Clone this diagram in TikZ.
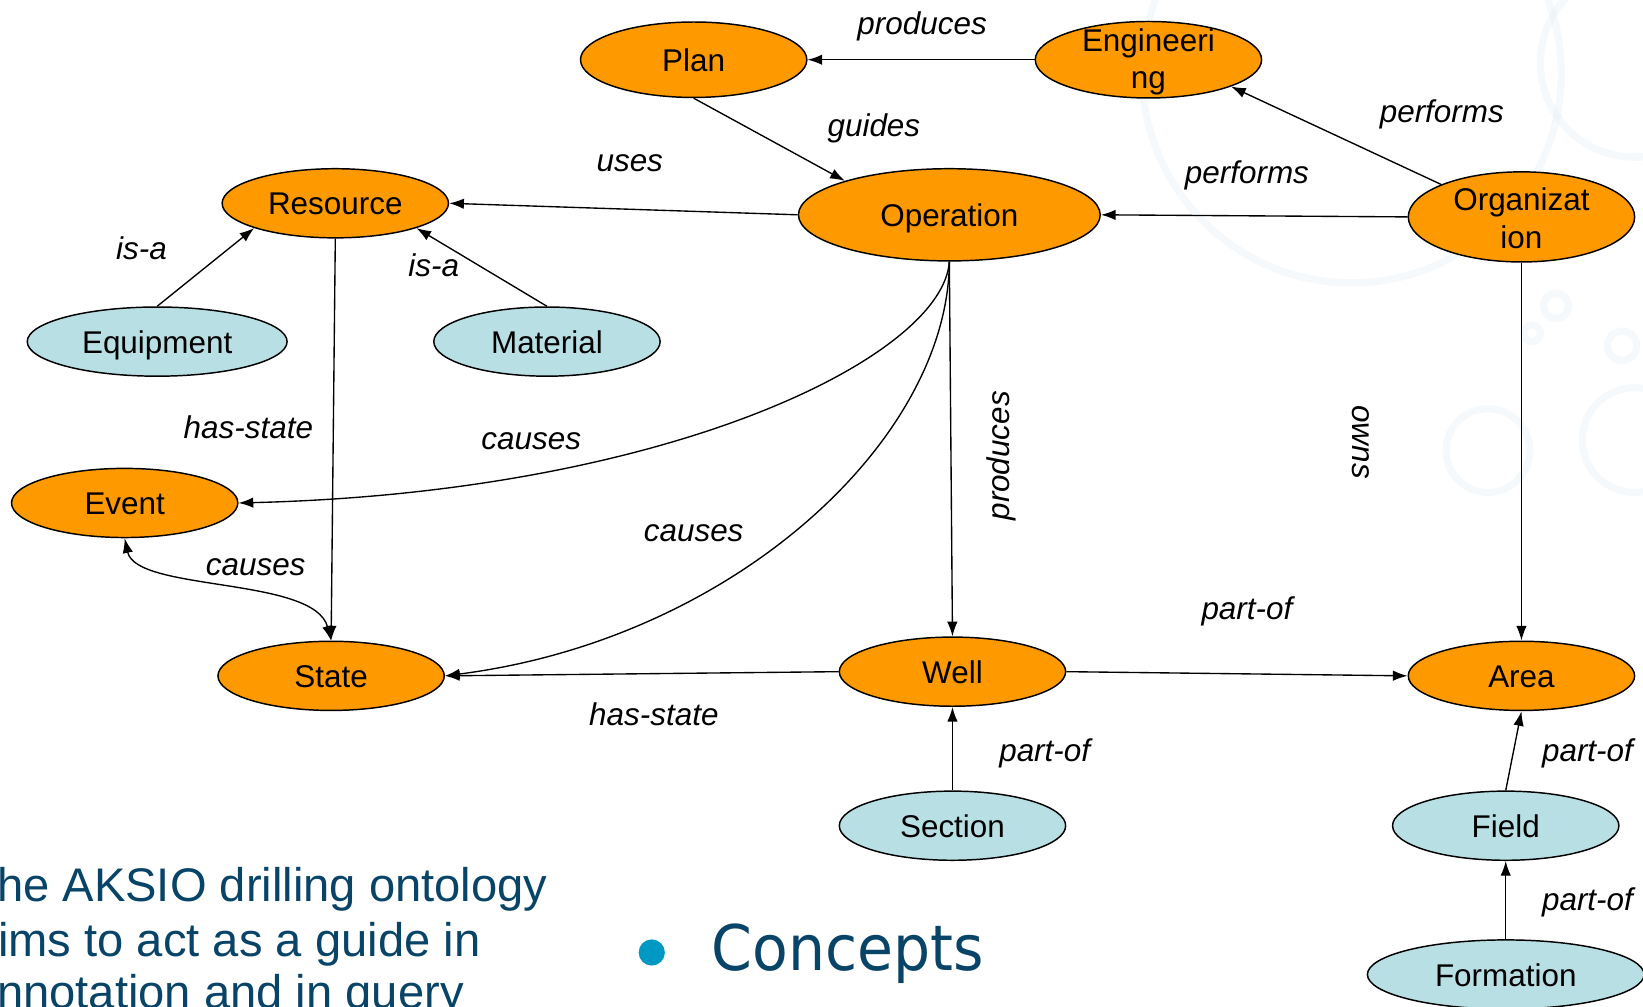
\documentclass[tikz,border=0pt]{standalone}
\usepackage{fontspec}
\setmainfont{Liberation Sans}
\newfontfamily\conceptfont[FakeStretch=0.93]{DejaVu Sans}
\usetikzlibrary{shapes.geometric,arrows.meta}
\definecolor{nodeorange}{RGB}{255,153,0}
\definecolor{nodeblue}{RGB}{184,223,227}
\definecolor{slidetext}{RGB}{8,68,104}
\definecolor{bulletblue}{RGB}{0,153,196}
\definecolor{wmark}{RGB}{222,234,241}
\begin{document}
\begin{tikzpicture}[x=1pt,y=-1pt,
  >={Latex[length=14pt,width=10pt]},
  concept/.style={ellipse, draw=black, line width=1.4pt, inner sep=0pt,
    font=\fontsize{30}{36}\selectfont, align=center, text height=22pt, text depth=0pt},
  core/.style={concept, fill=nodeorange},
  sub/.style={concept, fill=nodeblue},
  rel/.style={font=\fontsize{30}{36}\selectfont\itshape, inner sep=0pt, text height=22pt, text depth=0pt},
  link/.style={line width=1.3pt, ->},
  body/.style={text=slidetext, font=\fontsize{45}{53}\selectfont, anchor=base west, inner sep=0pt},
]
\useasboundingbox (0,0) rectangle (1568,961);
\clip (0,0) rectangle (1568,961);

% faint watermark
\begin{scope}[draw=wmark, line width=7pt, opacity=0.3]
  \draw (1290,70) circle [radius=200pt];
  \draw (1560,60) circle [radius=90pt];
  \draw (1485,292) circle [radius=12pt];
  \draw (1462,318) circle [radius=8pt];
  \draw (1548,330) circle [radius=14pt];
  \draw (1420,430) circle [radius=40pt];
  \draw (1560,420) circle [radius=50pt];
\end{scope}

% concept nodes
\node[core, minimum width=216pt, minimum height=72pt] (plan) at (662,57) {Plan};
\node[core, minimum width=216pt, minimum height=73pt,
  label={[font=\fontsize{30}{36}\selectfont, align=center, yshift=-2pt]center:Engineeri\\ng}] (eng) at (1096,57) {};
\node[core, minimum width=216pt, minimum height=66pt] (res) at (320,194) {Resource};
\node[core, minimum width=288pt, minimum height=88pt] (op) at (906,205) {Operation};
\node[core, minimum width=216pt, minimum height=86pt,
  label={[font=\fontsize{30}{36}\selectfont, align=center, yshift=-1pt]center:Organizat\\ion}] (org) at (1452,207) {};
\node[sub, minimum width=248pt, minimum height=66pt] (equip) at (150,326) {Equipment};
\node[sub, minimum width=216pt, minimum height=66pt] (mat) at (522,326) {Material};
\node[core, minimum width=216pt, minimum height=66pt] (event) at (119,480) {Event};
\node[core, minimum width=216pt, minimum height=66pt] (state) at (316,645) {State};
\node[core, minimum width=216pt, minimum height=66pt] (well) at (909,641) {Well};
\node[core, minimum width=216pt, minimum height=66pt] (area) at (1452,645) {Area};
\node[sub, minimum width=216pt, minimum height=66pt] (sec) at (909,788) {Section};
\node[sub, minimum width=216pt, minimum height=66pt] (field) at (1437,788) {Field};
\node[sub, minimum width=264pt, minimum height=66pt] (form) at (1437,930) {Formation};

% connectors
\draw[link] (eng.west) -- (plan.east);
\draw[link] (plan.south) -- (op.162);
\draw[link] (op.west) -- (res.east);
\draw[link] (org.west) -- (op.east);
\draw[link] (org.158) -- (eng.342);
\draw[link] (equip.north) -- (res.197);
\draw[link] (mat.north) -- (res.343);
\draw[link] (res.south) -- (state.north);
\draw[link] (op.south) .. controls (900,340) and (640,470) .. (event.east);
\draw[link] (op.south) .. controls (905,420) and (700,610) .. (state.east);
\draw[link] (op.south) -- (well.north);
\draw[line width=1.3pt, <->] (event.south) .. controls (130,565) and (300,550) .. (state.north);
\draw[link] (well.west) -- (state.east);
\draw[link] (well.east) -- (area.west);
\draw[link] (org.south) -- (area.north);
\draw[link] (sec.north) -- (well.south);
\draw[link] (field.north) -- (area.south);
\draw[link] (form.north) -- (field.south);

% relation labels
\node[rel] (l1) at (880,22) {produces};
\node[rel] (l2) at (834,119) {guides};
\node[rel] (l3) at (601,153) {uses};
\node[rel] (l4) at (1190,164) {performs};
\node[rel] (l5) at (1376,106) {performs};
\node[rel] (l6) at (135,237) {is-a};
\node[rel] (l7) at (414,253) {is-a};
\node[rel] (l8) at (237,407) {has-state};
\node[rel] (l9) at (507,418) {causes};
\node[rel] (l10) at (662,506) {causes};
\node[rel, rotate=90] (l11) at (952,435) {produces};
\node[rel, rotate=-90] (l12) at (1302,422) {owns};
\node[rel] (l13) at (244,538) {causes};
\node[rel] (l14) at (1190,580) {part-of};
\node[rel] (l15) at (624,681) {has-state};
\node[rel] (l16) at (997,716) {part-of};
\node[rel] (l17) at (1515,716) {part-of};
\node[rel] (l18) at (1515,858) {part-of};

% slide text
\node[body] (t1) at (-3,860) {he AKSIO drilling ontology};
\node[body] (t2) at (-2,913) {ims to act as a guide in};
\node[body] (t3) at (-3,962) {nnotation and in query};
\node[circle, fill=bulletblue, minimum size=25pt, inner sep=0pt] (dot) at (622,909) {};
\node[text=slidetext, font=\conceptfont\fontsize{60}{70}\selectfont, anchor=base west, inner sep=0pt] (concepts) at (679,926) {Concepts};
\end{tikzpicture}
\end{document}
